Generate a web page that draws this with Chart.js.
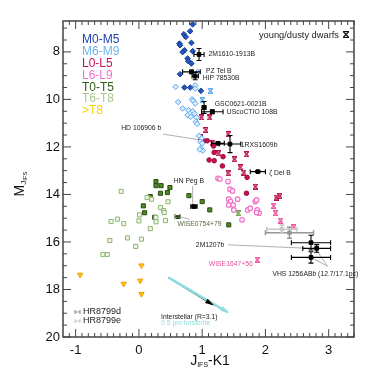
<!DOCTYPE html>
<html>
<head>
<meta charset="utf-8">
<script src="https://cdn.jsdelivr.net/npm/chart.js@4.4.1/dist/chart.umd.min.js"></script>
<style>
  html, body { margin: 0; padding: 0; background: #fff; }
  #cmd { display: block; }
</style>
</head>
<body>
<canvas id="cmd" width="378" height="378"></canvas>
<script>
// J_IFS-K1 colour (x) and M_J_IFS absolute magnitude (y) per spectral class
const m0m5X = [0.85, 0.71, 0.81, 0.74, 0.64, 0.65, 0.83, 0.72, 0.69, 0.85, 0.77, 0.78, 0.83, 0.65, 0.72, 0.81, 0.98];
const m0m5Y = [6.84, 7.26, 7.13, 7.37, 7.65, 7.72, 7.62, 7.93, 8.01, 7.97, 8.28, 8.39, 8.49, 8.94, 9.50, 9.50, 9.64];

const m6m9X = [0.58, 0.89, 0.89, 0.62, 0.84, 0.86, 0.89, 0.69, 0.78, 0.85, 0.88, 0.77, 0.82, 0.91, 0.90, 0.92, 0.95, 0.99, 0.97, 1.00, 0.98, 1.01, 0.96, 0.93];
const m6m9Y = [9.47, 9.41, 9.55, 10.11, 10.00, 10.06, 10.17, 10.38, 10.45, 10.50, 10.60, 10.66, 10.73, 10.76, 10.94, 11.03, 11.54, 11.64, 11.78, 11.85, 12.06, 12.16, 12.10, 8.85];
const youngM69X = [1.13, 1.00];
const youngM69Y = [9.64, 10.03];

const l0l5X = [1.03, 1.08, 1.18, 1.19, 1.11, 1.19, 1.33, 1.32, 1.71, 1.70];
const l0l5Y = [11.74, 11.74, 11.96, 12.23, 12.55, 12.58, 12.41, 12.80, 13.28, 13.95];
const youngL05X = [0.99, 1.12, 1.06, 1.41, 0.97, 1.16, 1.26, 1.70, 1.51, 1.60, 1.66, 1.41, 1.84, 2.17, 2.23];
const youngL05Y = [10.76, 10.76, 11.29, 11.46, 11.60, 11.82, 12.27, 12.31, 12.52, 12.86, 13.08, 13.11, 13.67, 14.13, 14.06];

const l6l9X = [1.25, 1.28, 1.41, 1.44, 1.48, 1.42, 1.45, 1.42, 1.56, 1.50, 1.49, 1.63, 1.72, 1.76, 1.84, 1.86, 1.87, 1.90, 1.86];
const l6l9Y = [13.32, 13.35, 13.46, 13.78, 13.85, 14.20, 14.30, 14.44, 14.20, 14.65, 14.44, 15.07, 14.65, 14.58, 14.30, 14.23, 14.65, 14.79, 14.76];
const youngL69X = [2.13, 2.16, 2.24, 2.45, 1.87];
const youngL69Y = [14.48, 14.79, 15.10, 15.38, 16.75];

const t0t5X = [0.27, 0.27, 0.35, 0.49, 0.34, 0.45, 0.18, 0.79, 0.07, 0.09, 0.25, 1.00, 1.12, 1.42];
const t0t5Y = [13.46, 13.63, 13.63, 13.71, 13.95, 13.92, 14.09, 14.05, 14.48, 14.77, 14.96, 14.30, 14.65, 15.28];
const youngTX = [1.57];
const youngTY = [14.79];

const t6t8X = [-0.28, 0.13, 0.20, 0.46, 0.34, 0.39, 0.40, 0.01, 0.00, 0.27, 0.27, 0.42, 0.18, -0.44, -0.34, -0.24, -0.46, -0.18, 0.04, -0.05, -0.57, -0.50];
const t6t8Y = [13.87, 14.13, 14.20, 14.31, 14.55, 14.68, 14.76, 14.86, 15.11, 14.97, 15.15, 15.10, 15.44, 15.14, 15.04, 15.23, 15.94, 15.83, 15.88, 16.19, 16.53, 16.53];

const lateTX = [-0.93, -0.24, 0.02, 0.04, 0.04];
const lateTY = [17.38, 17.76, 17.63, 16.99, 18.19];

// named companions, with error bars
const namedObj  = ['2M1610-1913B', 'PZ Tel B', 'HIP 78530B', 'GSC0621-0021B', 'UScoCTIO 108B', 'HD 106906 b', '1RXS1609b', 'ζ Del B', 'HN Peg B', '2M1207b', 'VHS 1256ABb 12.7pc', 'VHS 1256ABb 17.1pc'];
const namedX    = [0.95, 0.83, 0.89, 1.03, 1.16, 1.25, 1.44, 1.88, 0.87, 2.81, 2.72, 2.72];
const namedY    = [8.11, 8.84, 9.02, 10.34, 10.52, 11.85, 11.88, 13.04, 14.51, 16.27, 16.03, 16.65];
const namedXErr = [0.08, 0.14, 0.05, 0.03, 0.17, 0.10, 0.17, 0.12, 0.05, 0.22, 0.31, 0.31];
const namedYErr = [0.25, 0.08, 0.15, 0.25, 0.08, 0.05, 0.36, 0.05, 0.05, 0.16, 0.31, 0.24];

const hrName = ['HR8799d', 'HR8799e'];
const hrX    = [2.38, 2.26];
const hrY    = [15.61, 15.46];
const hrXErr = [0.38, 0.24];
const hrYErr = [0.23, 0.17];

const wiseX = [0.61], wiseY = [14.93], wiseXErr = [0.04];

// reddening vectors
const interstellarX = [0.47, 1.16], interstellarY = [17.50, 18.63];
const forsteriteX = [0.47, 1.40], forsteriteY = [17.50, 18.95];

const xTicks = [-1, 0, 1, 2, 3];
const yTicks = [8, 10, 12, 14, 16, 18, 20];

const classNames = ['M0-M5', 'M6-M9', 'L0-L5', 'L6-L9', 'T0-T5', 'T6-T8', '>T8'];
const classColors = ['#1a3fae', '#6cb6f2', '#c8105a', '#f26fca', '#2e5a1a', '#a9c98f', '#f8d000'];

const pts = (xs, ys) => xs.map((x, i) => ({ x, y: ys[i] }));
const font = "'Liberation Sans', Arial, sans-serif";

// hourglass marker for young/dusty objects
function hourglass(color, w = 5, h = 6) {
  const c = document.createElement('canvas');
  c.width = w; c.height = h;
  const g = c.getContext('2d');
  g.strokeStyle = color; g.fillStyle = color; g.lineWidth = 1.1;
  g.fillRect(0, 0, w, 1.2);
  g.fillRect(0, h - 1.2, w, 1.2);
  g.beginPath();
  g.moveTo(0.5, 1); g.lineTo(w - 0.5, h - 1);
  g.moveTo(w - 0.5, 1); g.lineTo(0.5, h - 1);
  g.stroke();
  return c;
}

function scatter(data, style, bg, border, radius, extra = {}) {
  return Object.assign({
    type: 'scatter', data, pointStyle: style, backgroundColor: bg,
    borderColor: border, pointRadius: radius, borderWidth: 1
  }, extra);
}

// labels and leader lines, in data coordinates
const labels = [
  { t: '2M1610-1913B', x: 1.10, y: 8.10 },
  { t: 'PZ Tel B', x: 1.06, y: 8.81 },
  { t: 'HIP 78530B', x: 1.01, y: 9.10 },
  { t: 'GSC0621-0021B', x: 1.20, y: 10.20 },
  { t: 'UScoCTIO 108B', x: 1.39, y: 10.53 },
  { t: 'HD 106906 b', x: -0.28, y: 11.20 },
  { t: '1RXS1609b', x: 1.61, y: 11.92 },
  { t: 'ζ Del B', x: 2.06, y: 13.10 },
  { t: 'HN Peg B', x: 0.55, y: 13.43 },
  { t: 'WISE0754+79', x: 0.61, y: 15.24, c: '#5b6b45' },
  { t: '2M1207b', x: 0.90, y: 16.12 },
  { t: 'VHS 1256ABb (12.7/17.1pc)', x: 2.11, y: 17.35 },
  { t: 'WISE1647+56', x: 1.80, y: 16.93, c: '#ee4f9e', a: 'right' },
  { t: 'Interstellar (R=3.1)', x: 0.35, y: 19.15 },
  { t: '0.5 μm forsterite', x: 0.35, y: 19.40, c: '#8fdcdc' }
];
const leaders = [
  [0.38, 11.46, 1.20, 11.80],
  [0.85, 13.64, 0.85, 14.42],
  [0.66, 14.95, 0.80, 15.05],
  [1.41, 16.12, 2.62, 16.26],
  [2.98, 17.02, 2.72, 16.65],
  [2.98, 17.02, 2.80, 16.32]
];

function errBar(ctx, x, y, cx, cy, xe, ye, color, w) {
  ctx.strokeStyle = color; ctx.lineWidth = w;
  const px = x.getPixelForValue(cx), py = y.getPixelForValue(cy);
  ctx.beginPath();
  if (xe) {
    const a = x.getPixelForValue(cx - xe), b = x.getPixelForValue(cx + xe);
    ctx.moveTo(a, py); ctx.lineTo(b, py);
    ctx.moveTo(a, py - 2.5); ctx.lineTo(a, py + 2.5);
    ctx.moveTo(b, py - 2.5); ctx.lineTo(b, py + 2.5);
  }
  if (ye) {
    const a = y.getPixelForValue(cy - ye), b = y.getPixelForValue(cy + ye);
    ctx.moveTo(px, a); ctx.lineTo(px, b);
    ctx.moveTo(px - 2.5, a); ctx.lineTo(px + 2.5, a);
    ctx.moveTo(px - 2.5, b); ctx.lineTo(px + 2.5, b);
  }
  ctx.stroke();
}

function arrowHead(ctx, x, y, xs, ys, color) {
  const x0 = x.getPixelForValue(xs[0]), y0 = y.getPixelForValue(ys[0]);
  const x1 = x.getPixelForValue(xs[1]), y1 = y.getPixelForValue(ys[1]);
  const ang = Math.atan2(y1 - y0, x1 - x0);
  ctx.fillStyle = color;
  ctx.beginPath();
  ctx.moveTo(x1 + 2 * Math.cos(ang), y1 + 2 * Math.sin(ang));
  ctx.lineTo(x1 - 7 * Math.cos(ang) + 2.5 * Math.sin(ang), y1 - 7 * Math.sin(ang) - 2.5 * Math.cos(ang));
  ctx.lineTo(x1 - 7 * Math.cos(ang) - 2.5 * Math.sin(ang), y1 - 7 * Math.sin(ang) + 2.5 * Math.cos(ang));
  ctx.closePath();
  ctx.fill();
}

// text with a subscript, used for axis titles
function subText(ctx, parts, x, y, align) {
  let w = 0;
  parts.forEach(p => { ctx.font = p[1] + 'px ' + font; w += ctx.measureText(p[0]).width; });
  let cx = align === 'center' ? x - w / 2 : x;
  parts.forEach(p => {
    ctx.font = p[1] + 'px ' + font;
    ctx.fillText(p[0], cx, y + p[2]);
    cx += ctx.measureText(p[0]).width;
  });
}

// everything drawn behind the points: leader lines
const behind = {
  id: 'behind',
  beforeDatasetsDraw(chart) {
    const { ctx, scales: { x, y } } = chart;
    ctx.save();
    ctx.strokeStyle = '#9a9a9a'; ctx.lineWidth = 0.8;
    leaders.forEach(l => {
      ctx.beginPath();
      ctx.moveTo(x.getPixelForValue(l[0]), y.getPixelForValue(l[1]));
      ctx.lineTo(x.getPixelForValue(l[2]), y.getPixelForValue(l[3]));
      ctx.stroke();
    });
    ctx.restore();
  }
};

// error bars, arrow heads, frame, ticks, texts
const overlay = {
  id: 'overlay',
  afterDatasetsDraw(chart) {
    const { ctx, scales: { x, y } } = chart;
    ctx.save();
    arrowHead(ctx, x, y, forsteriteX, forsteriteY, '#8fdcdc');
    arrowHead(ctx, x, y, interstellarX, interstellarY, '#000');
    hrX.forEach((v, i) => errBar(ctx, x, y, v, hrY[i], hrXErr[i], hrYErr[i], i ? '#c8c8c8' : '#969696', 1.5));
    errBar(ctx, x, y, wiseX[0], wiseY[0], wiseXErr[0], 0, '#2e4a1a', 1);
    namedX.forEach((v, i) => errBar(ctx, x, y, v, namedY[i], namedXErr[i], namedYErr[i], '#000', 1.1));
    ctx.restore();
  },
  afterDraw(chart) {
    const { ctx, chartArea: a, scales: { x, y } } = chart;
    ctx.save();
    // frame and inward ticks
    ctx.strokeStyle = '#444'; ctx.lineWidth = 1.5;
    ctx.strokeRect(a.left, a.top, a.right - a.left, a.bottom - a.top);
    ctx.lineWidth = 1;
    ctx.beginPath();
    for (let i = -11; i <= 34; i++) {
      const px = x.getPixelForValue(i / 10), len = i % 10 === 0 ? 8 : 4;
      ctx.moveTo(px, a.bottom); ctx.lineTo(px, a.bottom - len);
      ctx.moveTo(px, a.top); ctx.lineTo(px, a.top + len);
    }
    for (let i = 14; i <= 40; i++) {
      const py = y.getPixelForValue(i / 2), len = i % 4 === 0 ? 8 : 4;
      ctx.moveTo(a.left, py); ctx.lineTo(a.left + len, py);
      ctx.moveTo(a.right, py); ctx.lineTo(a.right - len, py);
    }
    ctx.stroke();

    // class legend
    ctx.textBaseline = 'middle'; ctx.textAlign = 'left';
    ctx.font = '12px ' + font;
    classNames.forEach((n, i) => {
      ctx.fillStyle = classColors[i];
      ctx.fillText(n, 82, 40 + i * 11.8);
    });

    // young/dusty key
    ctx.fillStyle = '#222'; ctx.font = '9.3px ' + font; ctx.textAlign = 'right';
    ctx.fillText('young/dusty dwarfs', 339, 35);
    ctx.drawImage(hourglass('#111', 6, 7), 343, 31);

    // HR8799 key
    ctx.textAlign = 'left'; ctx.font = '9px ' + font;
    hrName.forEach((n, i) => {
      const yy = 312 + i * 9;
      ctx.strokeStyle = i ? '#c8c8c8' : '#969696'; ctx.lineWidth = 1.2;
      ctx.beginPath();
      ctx.moveTo(75, yy); ctx.lineTo(80, yy);
      ctx.moveTo(75, yy - 2); ctx.lineTo(75, yy + 2);
      ctx.moveTo(80, yy - 2); ctx.lineTo(80, yy + 2);
      ctx.stroke();
      ctx.fillStyle = '#222';
      ctx.fillText(n, 83, yy);
    });

    // object labels
    labels.forEach(l => {
      ctx.font = '6.8px ' + font;
      ctx.fillStyle = l.c || '#222';
      ctx.textAlign = l.a || 'left';
      ctx.fillText(l.t, x.getPixelForValue(l.x), y.getPixelForValue(l.y));
    });

    // axis titles
    ctx.fillStyle = '#111'; ctx.textAlign = 'left'; ctx.textBaseline = 'middle';
    subText(ctx, [['J', 14, 0], ['IFS', 7, 4], ['-K1', 14, 0]], 210, 361, 'center');
    ctx.translate(20, 184);
    ctx.rotate(-Math.PI / 2);
    subText(ctx, [['M', 14, 0], ['J', 8, 4], ['IFS', 6, 5]], 0, 0, 'center');
    ctx.restore();
  }
};

new Chart('cmd', {
  data: {
    datasets: [
      { type: 'line', data: pts(forsteriteX, forsteriteY), borderColor: '#8fdcdc', borderWidth: 2.5, pointRadius: 0 },
      { type: 'line', data: pts(interstellarX, interstellarY), borderColor: '#000', borderWidth: 1.4, pointRadius: 0 },
      scatter(pts(t6t8X, t6t8Y), 'rect', '#eef5e6', '#8db874', 2.9),
      scatter(pts(t0t5X, t0t5Y), 'rect', '#4f8a22', '#2b4a14', 2.9),
      scatter(pts(lateTX, lateTY), 'triangle', '#ffc814', '#f09a00', 3.1, { rotation: 180 }),
      scatter(pts(m0m5X, m0m5Y), 'rectRot', '#2157c4', '#173c8e', 2.8),
      scatter(pts(m6m9X, m6m9Y), 'rectRot', '#d8ecfd', '#5aa8ee', 2.8),
      scatter(pts(l6l9X, l6l9Y), 'circle', '#fff4fb', '#f06cc4', 2.3, { borderWidth: 1.1 }),
      scatter(pts(l0l5X, l0l5Y), 'circle', '#c4104f', '#a00c40', 2.3),
      scatter(pts(youngM69X, youngM69Y), hourglass('#5aa8ee'), '#5aa8ee', '#5aa8ee', 3),
      scatter(pts(youngL05X, youngL05Y), hourglass('#b8104c'), '#b8104c', '#b8104c', 3),
      scatter(pts(youngL69X, youngL69Y), hourglass('#f0509e'), '#f0509e', '#f0509e', 3),
      scatter(pts(youngTX, youngTY), hourglass('#6a9a48'), '#6a9a48', '#6a9a48', 3),
      scatter(pts(wiseX, wiseY), hourglass('#2e4a1a', 4, 4), '#2e4a1a', '#2e4a1a', 3),
      scatter(pts(hrX, hrY), 'rect', ['#969696', '#c8c8c8'], ['#969696', '#c8c8c8'], 2.4),
      scatter(pts(namedX, namedY), 'rect', '#000', '#000', 2.6)
    ]
  },
  options: {
    responsive: false,
    animation: false,
    devicePixelRatio: 1,
    events: [],
    layout: { padding: { top: 21, right: 24, left: 0, bottom: 0 } },
    plugins: { legend: { display: false }, tooltip: { enabled: false } },
    scales: {
      x: {
        type: 'linear', min: -1.2, max: 3.4,
        afterBuildTicks: s => { s.ticks = xTicks.map(v => ({ value: v })); },
        afterFit: s => { s.height = 41; },
        ticks: { color: '#111', font: { size: 13, family: font }, padding: 6 },
        grid: { display: false, drawTicks: false },
        border: { display: false }
      },
      y: {
        type: 'linear', min: 6.7, max: 20, reverse: true,
        afterBuildTicks: s => { s.ticks = yTicks.map(v => ({ value: v })); },
        afterFit: s => { s.width = 63; },
        ticks: { color: '#111', font: { size: 13, family: font }, padding: 3 },
        grid: { display: false, drawTicks: false },
        border: { display: false }
      }
    }
  },
  plugins: [behind, overlay]
});
</script>
</body>
</html>
